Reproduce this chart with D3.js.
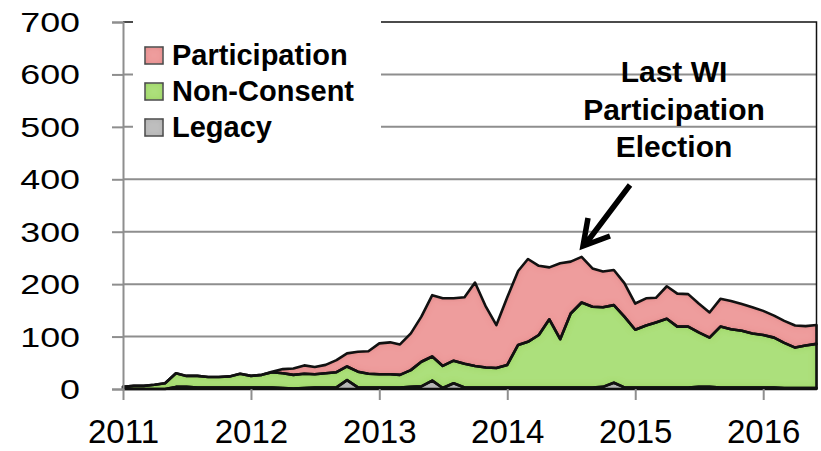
<!DOCTYPE html>
<html>
<head>
<meta charset="utf-8">
<script src="https://cdn.jsdelivr.net/npm/d3@7"></script>
<style>
  body { margin: 0; background: #fff; }
  svg { display: block; font-family: "Liberation Sans", Arial, sans-serif; }
</style>
</head>
<body>
<div id="chart"></div>
<script>
// monthly, Jan 2011 .. Jun 2016
const months = d3.timeMonths(new Date(2011, 0, 1), new Date(2016, 6, 1));
const legacy = [0,0,0,0,0,4,4,3,3,3,3,3,3,3,3,2,1,2,3,3,3,17,3,3,3,3,3,4,5,16,2,11,3,3,3,3,3,3,3,3,3,3,3,3,3,4,12,3,3,3,3,3,3,3,4,4,3,3,3,3,3,3,2,2,2,2];
const nonConsent = [4,6,6,8,11,26,21,22,20,20,21,26,22,24,29,28,26,27,25,27,29,26,30,26,25,25,24,32,47,46,42,43,45,41,38,37,43,81,87,100,130,92,141,162,154,152,148,135,110,118,124,131,116,116,104,94,116,111,108,103,100,95,86,77,81,84];
const participation = [0,0,0,0,0,0,0,0,0,0,0,0,0,0,1,8,12,16,14,16,23,25,38,43,59,61,58,70,86,117,129,119,127,159,116,82,129,141,158,132,99,145,99,87,73,68,67,64,50,52,47,62,63,62,55,48,53,54,51,50,46,42,42,42,37,36];
const yTicks = [0,100,200,300,400,500,600,700];
const xTicks = [2011,2012,2013,2014,2015,2016];
const seriesNames = ["Legacy","Non-Consent","Participation"];
const legendOrder = ["Participation","Non-Consent","Legacy"];
const colors = {"Legacy":"#b4b4b4","Non-Consent":"#9cdb55","Participation":"#ec8888"};

const w=821, h=451;
const pLeft=123, pRight=816.5, pTop=22, pBottom=389;

const rows = months.map((m,i)=>({date:m, "Legacy":legacy[i], "Non-Consent":nonConsent[i], "Participation":participation[i]}));
const stacked = d3.stack().keys(seriesNames)(rows);

const x = d3.scaleTime().domain([months[0], months[months.length-1]]).range([pLeft, pRight]);
const y = d3.scaleLinear().domain([0,700]).range([pBottom, pTop]);

const svg = d3.select("#chart").append("svg").attr("width", w).attr("height", h);

// gridlines
svg.append("g").selectAll("line")
   .data(yTicks.filter(d=>d>0 && d<700))
   .enter().append("line")
   .attr("x1", pLeft).attr("x2", pRight)
   .attr("y1", d=>y(d)).attr("y2", d=>y(d))
   .attr("stroke", "#8e8e8e").attr("stroke-width", 2);

// plot frame (top + right)
svg.append("path")
   .attr("d", `M${pLeft},${y(700)}H${pRight}V${pBottom}`)
   .attr("fill", "none").attr("stroke", "#111").attr("stroke-width", 1.5);

// soft bevel look: darker rim, lighter middle
const defs = svg.append("defs");
const f = defs.append("filter").attr("id", "soft").attr("x", "-5%").attr("y", "-5%").attr("width", "110%").attr("height", "110%");
f.append("feGaussianBlur").attr("in", "SourceAlpha").attr("stdDeviation", 3).attr("result", "blur");
f.append("feComposite").attr("in", "SourceAlpha").attr("in2", "blur").attr("operator", "out").attr("result", "edge");
f.append("feFlood").attr("flood-color", "#000").attr("flood-opacity", 0.15).attr("result", "dark");
f.append("feComposite").attr("in", "dark").attr("in2", "edge").attr("operator", "in").attr("result", "shade");
f.append("feComposite").attr("in", "SourceAlpha").attr("in2", "blur").attr("operator", "in").attr("result", "core");
f.append("feFlood").attr("flood-color", "#fff").attr("flood-opacity", 0.12).attr("result", "light");
f.append("feComposite").attr("in", "light").attr("in2", "core").attr("operator", "in").attr("result", "glow");
const fm = f.append("feMerge");
fm.append("feMergeNode").attr("in", "SourceGraphic");
fm.append("feMergeNode").attr("in", "glow");
fm.append("feMergeNode").attr("in", "shade");

const area = d3.area()
  .x(d=>x(d.data.date))
  .y0(d=>y(d[0]))
  .y1(d=>y(d[1]));

svg.append("g").selectAll("path.fill")
   .data(stacked).enter().append("path")
   .attr("class", "fill")
   .attr("d", area)
   .attr("fill", d=>colors[d.key])
   .attr("filter", "url(#soft)");

svg.append("g").selectAll("path.edge")
   .data(stacked).enter().append("path")
   .attr("class", "edge")
   .attr("d", area)
   .attr("fill", "none")
   .attr("stroke", "#111")
   .attr("stroke-width", 2.6)
   .attr("stroke-linejoin", "round");

// y axis (labels drawn separately, slightly wide like the original)
const yAxis = d3.axisLeft(y).tickValues(yTicks).tickSize(11).tickFormat("");
const gy = svg.append("g").attr("transform", `translate(${pLeft},0)`).call(yAxis);
gy.select(".domain").attr("stroke", "#8e8e8e").attr("stroke-width", 2);
gy.selectAll(".tick line").attr("stroke", "#8e8e8e").attr("stroke-width", 2);
svg.append("g").selectAll("text")
   .data(yTicks).enter().append("text")
   .attr("transform", d=>`translate(80,${y(d)+10}) scale(1.28,1)`)
   .attr("text-anchor", "end")
   .attr("font-size", 28).attr("fill", "#000")
   .text(d=>d);

// x axis
const xAxis = d3.axisBottom(x).tickValues(xTicks.map(yr=>new Date(yr,0,1))).tickSize(11).tickFormat(d3.timeFormat("%Y"));
const gx = svg.append("g").attr("transform", `translate(0,${pBottom})`).call(xAxis);
gx.select(".domain").remove();
gx.selectAll(".tick line").attr("stroke", "#8e8e8e").attr("stroke-width", 2);
gx.selectAll(".tick text")
  .attr("y", 54).attr("dy", 0)
  .attr("font-size", 33).attr("fill", "#000")
  .attr("font-family", "Liberation Sans, Arial, sans-serif");

// legend
const legend = svg.append("g");
legend.append("rect").attr("x", 133).attr("y", 16).attr("width", 248).attr("height", 149).attr("fill", "#fff");
legendOrder.forEach((name,i)=>{
  const base = 65 + i*36;
  legend.append("rect")
    .attr("x", 145).attr("y", base-18).attr("width", 18).attr("height", 17)
    .attr("fill", colors[name]).attr("stroke", "#333").attr("stroke-width", 1.5)
    .attr("filter", "url(#soft)");
  legend.append("text")
    .attr("x", 172).attr("y", base)
    .attr("font-size", 29).attr("font-weight", "bold")
    .text(name);
});

// annotation
const note = ["Last WI","Participation","Election"];
svg.append("g").selectAll("text")
   .data(note).enter().append("text")
   .attr("x", 674).attr("y", (d,i)=>82 + i*37.5)
   .attr("text-anchor", "middle")
   .attr("font-size", 30).attr("font-weight", "bold")
   .text(d=>d);

svg.append("path")
   .attr("d", "M630,185L584,246M588,218L583,246L610,236")
   .attr("fill", "none").attr("stroke", "#000").attr("stroke-width", 5.5)
   .attr("stroke-linecap", "butt").attr("stroke-linejoin", "miter");
</script>
</body>
</html>
